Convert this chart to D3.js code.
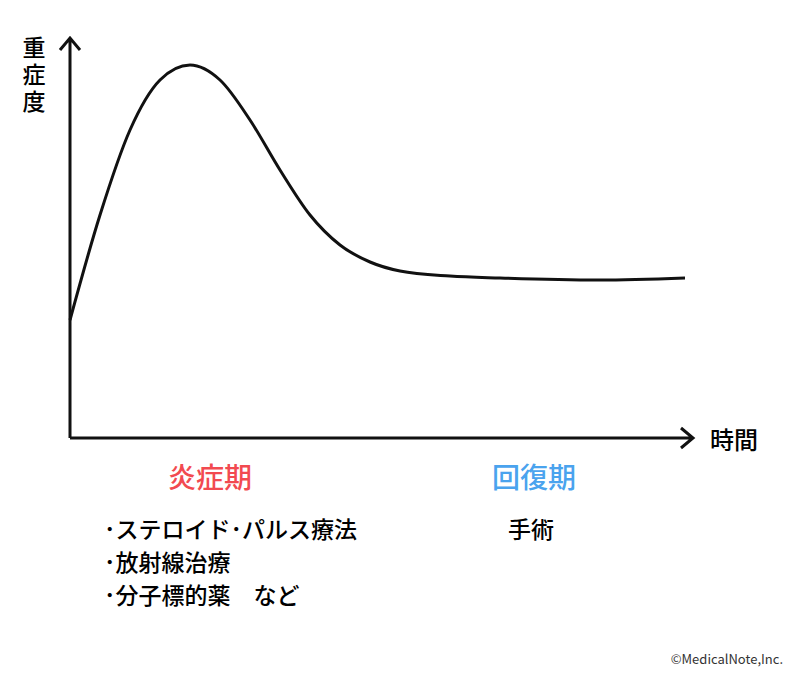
<!DOCTYPE html>
<html><head><meta charset="utf-8">
<script src="https://cdn.jsdelivr.net/npm/d3@7"></script>
<style>body{margin:0;background:#fff}text{font-family:"Noto Sans CJK JP","Noto Sans",sans-serif}</style>
</head><body>
<script>
var jikan = [0,30,60,90,120,150,180,210,240,270,300,330,380,430,530,615];
var juusho = [118,223,308,358,373,358,318,268,223,193,176,167,162,160,158,160];
var enshoList = ["･ステロイド･パルス療法","･放射線治療","･分子標的薬　など"];
var kaifukuList = ["手術"];

const w = 800, h = 677;
const svg = d3.select("body").append("svg").attr("width", w).attr("height", h);

const x = d3.scaleLinear().domain([0,615]).range([70,685]);
const y = d3.scaleLinear().domain([0,373]).range([438,65]);

// axes
svg.append("path").attr("d","M70,438V38M60,50L70,38L80,50")
    .attr("fill","none").attr("stroke","#111").attr("stroke-width",3);
svg.append("path").attr("d","M70,438H693M681,428L693,438L681,448")
    .attr("fill","none").attr("stroke","#111").attr("stroke-width",3);

const line = d3.line()
    .x(function(d,i){ return x(jikan[i]); })
    .y(function(d){ return y(d); })
    .curve(d3.curveMonotoneX);
svg.append("path").datum(juusho).attr("d", line)
    .attr("fill","none").attr("stroke","#111").attr("stroke-width",3);

svg.selectAll(".yl").data(["重","症","度"]).enter().append("text")
    .attr("x",34).attr("y",function(d,i){ return 56 + i*27; })
    .attr("text-anchor","middle").attr("font-size",23).attr("font-weight",500).text(function(d){ return d; });
svg.append("text").attr("x",710).attr("y",449).attr("font-size",24).attr("font-weight",500).text("時間");

svg.append("text").attr("x",210).attr("y",488).attr("text-anchor","middle")
    .attr("font-size",28).attr("font-weight",500).attr("fill","#f24a50").text("炎症期");
svg.append("text").attr("x",534).attr("y",488).attr("text-anchor","middle")
    .attr("font-size",28).attr("font-weight",500).attr("fill","#4aa3ee").text("回復期");

svg.selectAll(".el").data(enshoList).enter().append("text")
    .attr("x",104).attr("y",function(d,i){ return 538 + i*33; })
    .attr("font-size",23).attr("font-weight",500).text(function(d){ return d; });
svg.selectAll(".kl").data(kaifukuList).enter().append("text")
    .attr("x",508).attr("y",538).attr("font-size",23).attr("font-weight",500).text(function(d){ return d; });

svg.append("text").attr("x",783).attr("y",664).attr("text-anchor","end")
    .attr("font-size",13).attr("fill","#333").text("©MedicalNote,Inc.");
</script>
</body></html>
